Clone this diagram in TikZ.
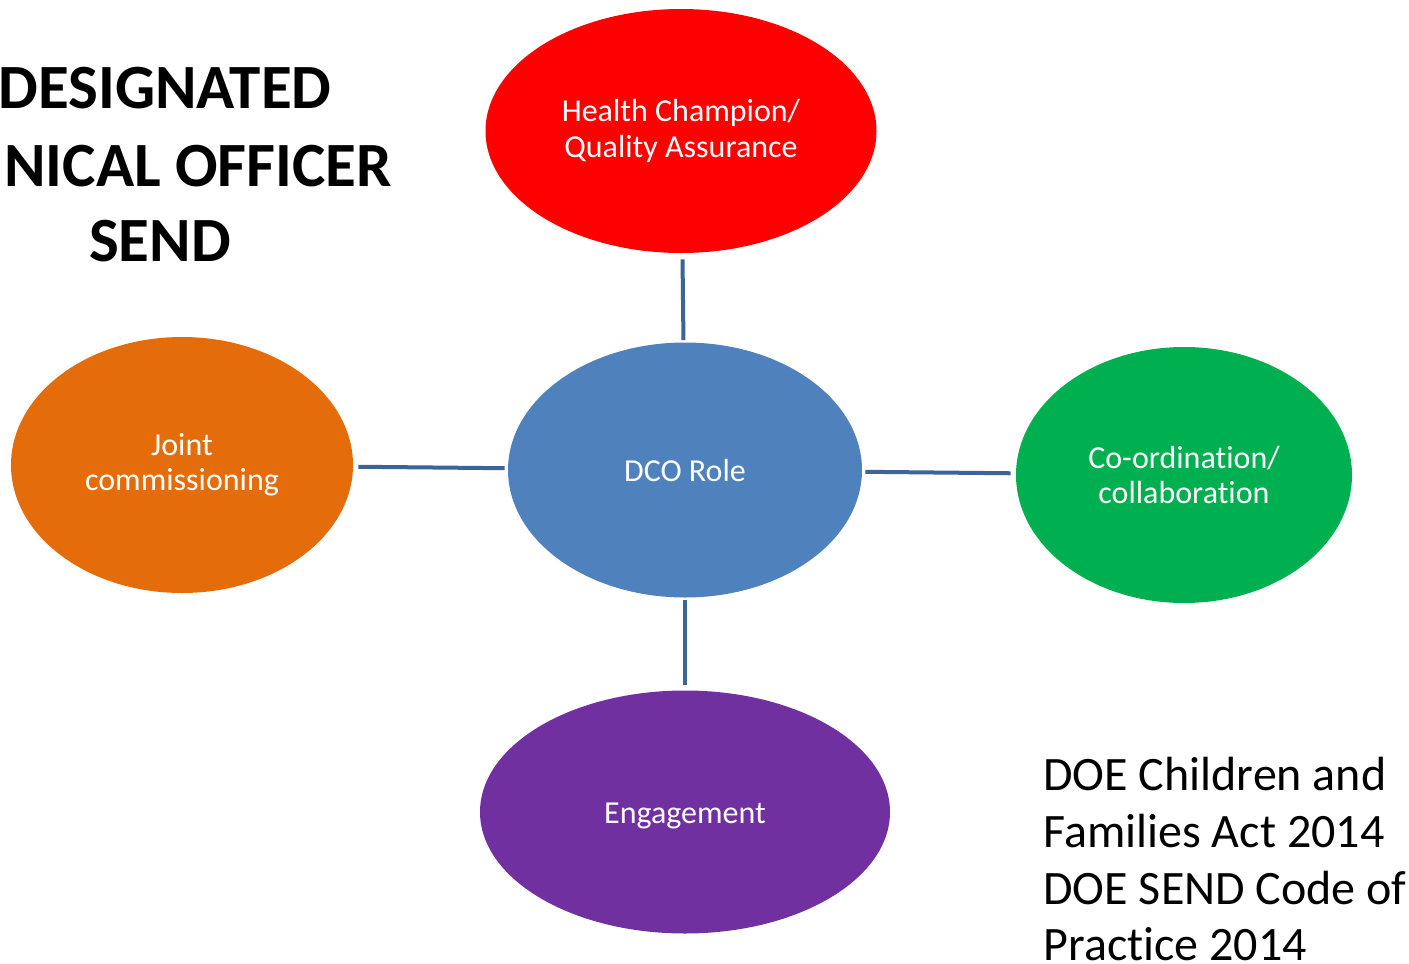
\documentclass[tikz,border=0pt]{standalone}
\usepackage{fontspec}
\setmainfont{Carlito}[Ligatures={NoCommon,NoContextual,NoRare}]
\usetikzlibrary{shapes.geometric}
\definecolor{cred}{HTML}{FF0000}
\definecolor{cblue}{HTML}{4F81BD}
\definecolor{corange}{HTML}{E46C0A}
\definecolor{cgreen}{HTML}{00B050}
\definecolor{cpurple}{HTML}{7030A0}
\definecolor{cline}{HTML}{3C6496}
\tikzset{
  bubble/.style={ellipse, draw=none, inner sep=0pt, text=white, align=center,
    font=\fontsize{16}{17.6}\selectfont},
  link/.style={draw=cline, line width=2pt},
  titletext/.style={inner sep=0pt, anchor=base, font=\fontsize{31.5}{37}\selectfont\bfseries},
  reftext/.style={inner sep=0pt, anchor=base west, font=\fontsize{24}{27}\selectfont},
}
\begin{document}
\begin{tikzpicture}[x=0.5pt, y=-0.5pt]
\useasboundingbox[fill=white] (0,0) rectangle (1409,964);
\node[bubble, fill=cred, minimum width=195.5pt, minimum height=122pt] (hc) at (681,131) {Health Champion/\\Quality Assurance};
\node[bubble, fill=cblue, minimum width=177pt, minimum height=127.5pt] (dco) at (685,470) {DCO Role};
\node[bubble, fill=corange, minimum width=171pt, minimum height=128pt] (jc) at (182,465) {Joint\\commissioning};
\node[bubble, fill=cgreen, minimum width=168pt, minimum height=128pt] (co) at (1184,475) {Co-ordination/\\collaboration};
\node[bubble, fill=cpurple, minimum width=205pt, minimum height=121.5pt] (en) at (685,812) {\raisebox{-1.8pt}[\height][\depth]{Engagement}};
\draw[link, shorten <=1pt, shorten >=3pt] (dco) -- (hc);
\draw[link, shorten <=1.5pt, shorten >=2.5pt] (dco) -- (jc);
\draw[link, shorten <=1.5pt, shorten >=2.5pt] (dco) -- (co);
\draw[link, shorten <=1pt, shorten >=2.5pt] (dco) -- (en);
\node[titletext] (t1) at (165,108) {DESIGNATED};
\node[titletext, anchor=base west] (t2) at (4,186) {NICAL OFFICER};
\node[titletext] (t3) at (160,261) {SEND};
\node[reftext] (r1) at (1043,790) {DOE Children and};
\node[reftext] (r2) at (1043,847) {Families Act 2014};
\node[reftext] (r3) at (1043,904) {DOE SEND Code of};
\node[reftext] (r4) at (1043,960) {Practice 2014};
\end{tikzpicture}
\end{document}
